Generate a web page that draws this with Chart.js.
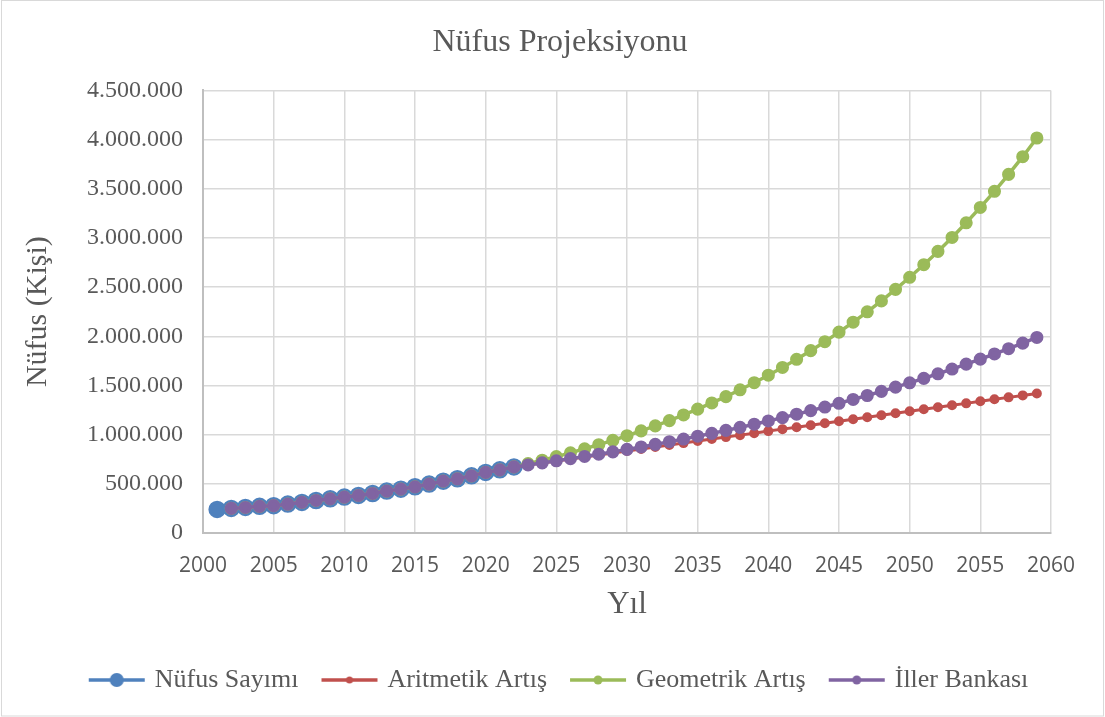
<!DOCTYPE html>
<html>
<head>
<meta charset="utf-8">
<script src="https://cdn.jsdelivr.net/npm/chart.js@4/dist/chart.umd.min.js"></script>
<style>
  html, body { margin: 0; padding: 0; background: #fff; }
  #wrap { width: 1105px; height: 717px; position: relative; }
</style>
</head>
<body>
<div id="wrap"><canvas id="chart"></canvas></div>
<script>
// nüfus sayımı (census)
const censusYears = [2001, 2002, 2003, 2004, 2005, 2006, 2007, 2008, 2009, 2010, 2011,
  2012, 2013, 2014, 2015, 2016, 2017, 2018, 2019, 2020, 2021, 2022];
const census = [240000, 250000, 260000, 271000, 278000, 294000, 311000, 331000, 348000, 365000, 382000,
  402000, 426000, 446000, 470000, 497000, 527000, 551000, 581000, 616000, 642000, 672000];

// projection years
const projYears = [2002, 2003, 2004, 2005, 2006, 2007, 2008, 2009, 2010, 2011, 2012, 2013, 2014, 2015,
  2016, 2017, 2018, 2019, 2020, 2021, 2022, 2023, 2024, 2025, 2026, 2027, 2028, 2029, 2030,
  2031, 2032, 2033, 2034, 2035, 2036, 2037, 2038, 2039, 2040, 2041, 2042, 2043, 2044, 2045,
  2046, 2047, 2048, 2049, 2050, 2051, 2052, 2053, 2054, 2055, 2056, 2057, 2058, 2059];

const arithmetic = [250000, 260000, 271000, 278000, 294000, 311000, 331000, 348000, 365000, 382000,
  402000, 426000, 446000, 470000, 497000, 527000, 551000, 581000, 616000, 642000, 672000,
  692000, 712000, 733000, 753000, 773000, 793000, 813000, 834000, 854000, 874000, 894000,
  914000, 935000, 955000, 975000, 995000, 1015000, 1036000, 1056000, 1076000, 1096000,
  1116000, 1137000, 1157000, 1177000, 1197000, 1217000, 1238000, 1258000, 1278000, 1298000,
  1318000, 1339000, 1359000, 1379000, 1399000, 1419000];

const geometric = [250000, 260000, 271000, 278000, 294000, 311000, 331000, 348000, 365000, 382000,
  402000, 426000, 446000, 470000, 497000, 527000, 551000, 581000, 616000, 642000, 672000,
  705000, 740000, 777000, 815000, 856000, 898000, 942000, 989000, 1038000, 1089000, 1143000,
  1200000, 1259000, 1322000, 1387000, 1456000, 1528000, 1604000, 1683000, 1766000, 1854000,
  1945000, 2042000, 2143000, 2249000, 2360000, 2477000, 2600000, 2728000, 2863000, 3005000,
  3154000, 3310000, 3474000, 3646000, 3826000, 4016000];

const ilbank = [250000, 260000, 271000, 278000, 294000, 311000, 331000, 348000, 365000, 382000,
  402000, 426000, 446000, 470000, 497000, 527000, 551000, 581000, 616000, 642000, 672000,
  692000, 713000, 734000, 756000, 778000, 801000, 825000, 850000, 875000, 901000, 928000,
  955000, 984000, 1013000, 1043000, 1074000, 1106000, 1139000, 1173000, 1208000, 1244000,
  1281000, 1319000, 1358000, 1398000, 1440000, 1483000, 1527000, 1572000, 1619000, 1667000,
  1717000, 1768000, 1820000, 1874000, 1930000, 1988000];

const seriesNames = ['Nüfus Sayımı', 'Aritmetik Artış', 'Geometrik Artış', 'İller Bankası'];

const textColor = '#595959';
const serif = '"Liberation Serif", "Times New Roman", serif';

function pts(xs, ys) {
  return xs.map((x, i) => ({ x: x, y: ys[i] }));
}

// legend icon: short line with a dot in the middle
function legendIcon(color, r) {
  const c = document.createElement('canvas');
  c.width = 58; c.height = 18;
  const ctx = c.getContext('2d');
  ctx.strokeStyle = color;
  ctx.lineWidth = 3.5;
  ctx.beginPath(); ctx.moveTo(1, 9); ctx.lineTo(57, 9); ctx.stroke();
  ctx.fillStyle = color;
  ctx.beginPath(); ctx.arc(29, 9, r, 0, Math.PI * 2); ctx.fill();
  return c;
}
const icons = [legendIcon('#4F81BD', 7), legendIcon('#C0504D', 3.5),
  legendIcon('#9BBB59', 4.5), legendIcon('#8064A2', 4.5)];

const frame = {
  id: 'frame',
  beforeDraw(chart) {
    const ctx = chart.ctx;
    ctx.save();
    ctx.fillStyle = '#fff';
    ctx.fillRect(0, 0, chart.width, chart.height);
    ctx.strokeStyle = '#d9d9d9';
    ctx.lineWidth = 1;
    ctx.strokeRect(1.5, 0.5, chart.width - 3, chart.height - 1.5);
    ctx.restore();
  }
};

const ctx = document.getElementById('chart');
new Chart(ctx, {
  type: 'line',
  data: {
    datasets: [
      { label: seriesNames[0], data: pts(censusYears, census), borderColor: '#4F81BD',
        backgroundColor: '#4F81BD', borderWidth: 3.5, pointRadius: 7, order: 3 },
      { label: seriesNames[1], data: pts(projYears, arithmetic), borderColor: '#C0504D',
        backgroundColor: '#C0504D', borderWidth: 3, pointRadius: 3.5, order: 2 },
      { label: seriesNames[2], data: pts(projYears, geometric), borderColor: '#9BBB59',
        backgroundColor: '#9BBB59', borderWidth: 3.5, pointRadius: 4.8, order: 1 },
      { label: seriesNames[3], data: pts(projYears, ilbank), borderColor: '#8064A2',
        backgroundColor: '#8064A2', borderWidth: 3.5, pointRadius: 4.8, order: 0 }
    ]
  },
  options: {
    responsive: true,
    maintainAspectRatio: false,
    animation: false,
    devicePixelRatio: 1,
    layout: { padding: { left: 15, right: 0, top: 0, bottom: 14 } },
    elements: {
      line: { tension: 0 },
      point: { borderWidth: 0, hoverRadius: 7 }
    },
    plugins: {
      title: {
        display: true,
        text: 'Nüfus Projeksiyonu',
        color: textColor,
        font: { family: serif, size: 32, weight: 'normal' },
        padding: { top: 23, bottom: 29 }
      },
      legend: {
        position: 'bottom',
        labels: {
          color: textColor,
          font: { family: serif, size: 26 },
          usePointStyle: true,
          pointStyleWidth: 50,
          padding: 26,
          sort: (a, b) => a.datasetIndex - b.datasetIndex,
          generateLabels(chart) {
            const items = Chart.defaults.plugins.legend.labels.generateLabels(chart);
            items.forEach(it => { it.pointStyle = icons[it.datasetIndex]; });
            return items;
          }
        }
      },
      tooltip: { enabled: false }
    },
    scales: {
      x: {
        type: 'linear',
        min: 2000,
        max: 2060,
        afterFit(s) { s.height = 108; },
        ticks: {
          stepSize: 5,
          color: textColor,
          padding: 20,
          font: { family: '"Open Sans", "Liberation Sans", sans-serif', size: 21 },
          callback: v => String(v)
        },
        grid: { color: '#d9d9d9', lineWidth: 1.5, drawTicks: false },
        border: { color: '#bfbfbf', width: 2 },
        title: {
          display: true,
          text: 'Yıl',
          color: textColor,
          font: { family: serif, size: 31 },
          padding: { top: 18, bottom: 18 }
        }
      },
      y: {
        min: 0,
        max: 4500000,
        afterFit(s) { s.width = 188; },
        ticks: {
          stepSize: 500000,
          color: textColor,
          padding: 20,
          font: { family: serif, size: 24 },
          callback: v => String(v).replace(/\B(?=(\d{3})+(?!\d))/g, '.')
        },
        grid: { color: '#d9d9d9', lineWidth: 1.5, drawTicks: false },
        border: { color: '#bfbfbf', width: 2 },
        title: {
          display: true,
          text: 'Nüfus (Kişi)',
          color: textColor,
          font: { family: serif, size: 30 },
          padding: { top: 5, bottom: 0 }
        }
      },
      // empty right-hand strip, keeps the plot area clear of the frame
      pad: {
        type: 'linear',
        position: 'right',
        afterFit(s) { s.width = 54; },
        ticks: { display: false },
        grid: { display: false },
        border: { display: false }
      }
    }
  },
  plugins: [frame]
});
</script>
</body>
</html>
